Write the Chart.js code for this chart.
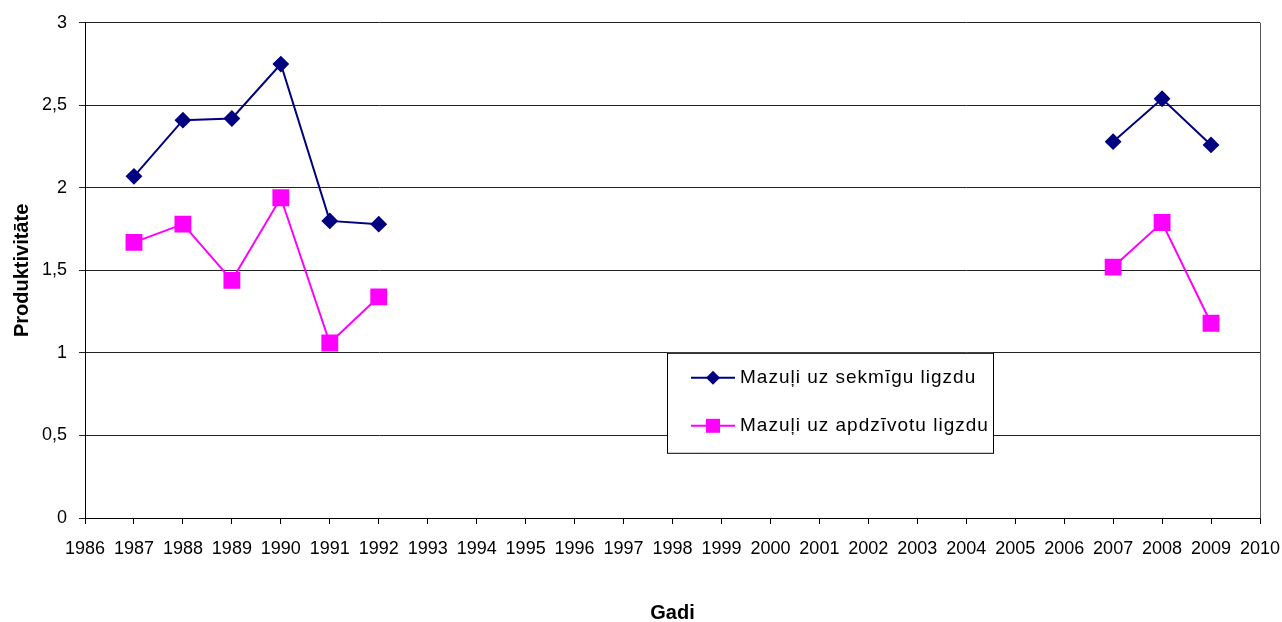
<!DOCTYPE html>
<html>
<head>
<meta charset="utf-8">
<script src="https://cdn.jsdelivr.net/npm/chart.js@4.4.0/dist/chart.umd.min.js"></script>
<style>
  html, body { margin: 0; padding: 0; background: #fff; }
  #wrap { width: 1282px; height: 622px; }
</style>
</head>
<body>
<div id="wrap"><canvas id="myChart" width="1282" height="622"></canvas></div>
<script>
// years with data
const years = [1987, 1988, 1989, 1990, 1991, 1992, 2007, 2008, 2009];
const perSuccessful = [2.07, 2.41, 2.42, 2.75, 1.80, 1.78, 2.28, 2.54, 2.26];
const perOccupied = [1.67, 1.78, 1.44, 1.94, 1.06, 1.34, 1.52, 1.79, 1.18];
const seriesNames = ['Mazuļi uz sekmīgu ligzdu', 'Mazuļi uz apdzīvotu ligzdu'];
const xMin = 1986, xMax = 2010;
const yMin = 0, yMax = 3, yStep = 0.5;

const toPoints = vals => years.map((y, i) => ({ x: y, y: vals[i] }));
// don't connect across the missing years
const gapSegment = {
  borderColor: ctx => (ctx.p1.parsed.x - ctx.p0.parsed.x > 1 ? 'rgba(0,0,0,0)' : undefined)
};

const plotFrame = {
  id: 'plotFrame',
  afterDraw(chart) {
    const { ctx, chartArea: a } = chart;
    ctx.save();
    ctx.strokeStyle = '#555';
    ctx.lineWidth = 1;
    ctx.beginPath();
    ctx.moveTo(Math.round(a.right) + 0.5, a.top);
    ctx.lineTo(Math.round(a.right) + 0.5, a.bottom);
    ctx.stroke();
    ctx.restore();
  }
};

const boxLegend = {
  id: 'boxLegend',
  afterDraw(chart) {
    const { ctx, chartArea: a } = chart;
    const left = a.left + 582, top = a.top + 330, w = 326, h = 100;
    ctx.save();
    ctx.fillStyle = '#fff';
    ctx.fillRect(left, top, w, h);
    ctx.strokeStyle = '#000';
    ctx.lineWidth = 1;
    ctx.strokeRect(left + 0.5, top + 0.5, w, h);
    ctx.font = '19px "Liberation Sans", Arial, sans-serif';
    ctx.letterSpacing = '1px';
    ctx.textBaseline = 'middle';
    chart.data.datasets.forEach((ds, i) => {
      const y = top + 25 + i * 48;
      const x0 = left + 24, x1 = left + 68;
      ctx.strokeStyle = ds.borderColor;
      ctx.lineWidth = 2;
      ctx.beginPath();
      ctx.moveTo(x0, y);
      ctx.lineTo(x1, y);
      ctx.stroke();
      ctx.fillStyle = ds.backgroundColor;
      const cx = (x0 + x1) / 2;
      ctx.beginPath();
      if (ds.pointStyle === 'rectRot') {
        ctx.moveTo(cx - 7, y); ctx.lineTo(cx, y - 7); ctx.lineTo(cx + 7, y); ctx.lineTo(cx, y + 7);
        ctx.closePath();
      } else {
        ctx.rect(cx - 7, y - 7, 14, 14);
      }
      ctx.fill();
      ctx.fillStyle = '#000';
      ctx.textAlign = 'left';
      ctx.fillText(ds.label, x1 + 5, y);
    });
    ctx.restore();
  }
};

const data = {
  datasets: [{
    label: seriesNames[0],
    data: toPoints(perSuccessful),
    borderColor: '#000080',
    backgroundColor: '#000080',
    borderWidth: 2,
    pointStyle: 'rectRot',
    pointRadius: 7,
    pointHoverRadius: 7,
    segment: gapSegment
  }, {
    label: seriesNames[1],
    data: toPoints(perOccupied),
    borderColor: '#FF00FF',
    backgroundColor: '#FF00FF',
    borderWidth: 2,
    pointStyle: 'rect',
    pointRadius: 10.5,
    pointHoverRadius: 10.5,
    segment: gapSegment
  }]
};

const config = {
  type: 'line',
  data: data,
  plugins: [plotFrame, boxLegend],
  options: {
    responsive: false,
    animation: false,
    layout: { padding: { top: 22, right: 22, left: 0, bottom: 0 } },
    plugins: {
      legend: { display: false },
      tooltip: { enabled: false }
    },
    scales: {
      x: {
        type: 'linear',
        min: xMin,
        max: xMax,
        afterFit: s => { s.height = 104; s.paddingRight = 0; s.paddingLeft = 0; },
        afterBuildTicks: s => {
          s.ticks = [];
          for (let v = xMin; v <= xMax; v++) s.ticks.push({ value: v });
        },
        ticks: {
          stepSize: 1,
          autoSkip: false,
          maxRotation: 0,
          padding: 14,
          color: '#000',
          font: { family: '"Liberation Sans", Arial', size: 18 },
          callback: v => String(v)
        },
        grid: { drawOnChartArea: false, drawTicks: true, tickLength: 6, color: '#000' },
        border: { display: true, color: '#000', width: 1 },
        title: {
          display: true,
          text: 'Gadi',
          color: '#000',
          font: { family: '"Liberation Sans", Arial', size: 20, weight: 'bold' },
          padding: { top: 0, bottom: -3 }
        }
      },
      y: {
        min: yMin,
        max: yMax,
        afterFit: s => { s.width = 85; },
        ticks: {
          stepSize: yStep,
          padding: 12,
          color: '#000',
          font: { family: '"Liberation Sans", Arial', size: 18 },
          callback: v => String(v).replace('.', ',')
        },
        grid: { color: '#222', lineWidth: 1, tickLength: 6 },
        border: { display: true, color: '#000', width: 1 },
        title: {
          display: true,
          text: 'Produktivitāte',
          color: '#000',
          font: { family: '"Liberation Sans", Arial', size: 20, weight: 'bold' },
          padding: { top: 10, bottom: 0 }
        }
      }
    }
  }
};

const myChart = new Chart(document.getElementById('myChart'), config);
</script>
</body>
</html>
